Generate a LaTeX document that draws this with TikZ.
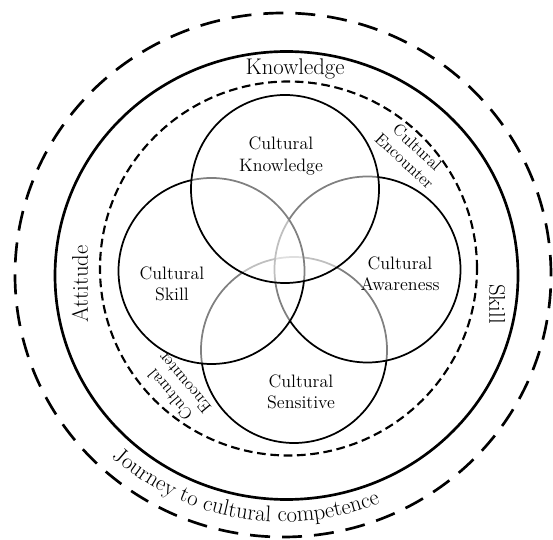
\documentclass[tikz,border=0pt]{standalone}
\usetikzlibrary{decorations.text,calc}
\begin{document}
\begin{tikzpicture}[x=0.75pt,y=0.75pt,
  ring/.style={line width=2pt},
  outerdash/.style={line width=2pt, dash pattern=on 15pt off 9pt},
  innerdash/.style={line width=1.6pt, dash pattern=on 6.5pt off 3.5pt},
  venn/.style={line width=1.3pt, draw=black, fill=white, fill opacity=0.5},
  vennlabel/.style={font=\fontsize{13.5}{16}\selectfont, align=center},
  bandlabel/.style={font=\fontsize{17}{19}\selectfont},
  encounter/.style={font=\fontsize{12.5}{14}\selectfont, align=center}]
\useasboundingbox (0,0) rectangle (553,539);

% centres of the rings and of the four circles
\coordinate (oc) at (283,264);
\coordinate (rc) at (286.5,263.5);
\coordinate (dc) at (288.5,270.5);
\coordinate (ck) at (285,350);
\coordinate (cs) at (211.5,268);
\coordinate (ca) at (367.5,269.5);
\coordinate (cv) at (294,189);

% rings
\draw[outerdash] (oc) ellipse [x radius=268, y radius=262];
\draw[ring] (rc) ellipse [x radius=231.5, y radius=224];
\draw[innerdash] (dc) ellipse [x radius=188.5, y radius=187];

% four overlapping circles, each veiling the lines below it
\path[venn] (cv) circle [radius=93];
\path[venn] (ca) circle [radius=93];
\path[venn] (cs) circle [radius=93];
\path[venn] (ck) circle [radius=94];

% circle labels
\node[vennlabel] (lk) at (281,383) {Cultural\\Knowledge};
\node[vennlabel] (ls) at (172,255) {Cultural\\Skill};
\node[vennlabel] (la) at (400,265) {Cultural\\Awareness};
\node[vennlabel] (lv) at (301,147) {Cultural\\Sensitive};

% ring labels
\node[bandlabel] (know) at (295,470) {Knowledge};
\node[bandlabel, rotate=90] (att) at (80,255) {Attitude};
\node[bandlabel, rotate=-90] (skl) at (497,235) {Skill};

\node[encounter, rotate=-43] (enc1) at (411,385) {Cultural\\Encounter};
\node[encounter, rotate=130] (enc2) at (177,150) {Cultural\\Encounter};

% curved caption along the bottom
\path[decorate, decoration={text along path, text align=center,
  text={|\fontsize{17}{19}\selectfont|Journey to cultural competence}}]
  ($(oc)+(220:253 and 247)$) arc [start angle=220, end angle=300, x radius=253, y radius=247];
\end{tikzpicture}
\end{document}
